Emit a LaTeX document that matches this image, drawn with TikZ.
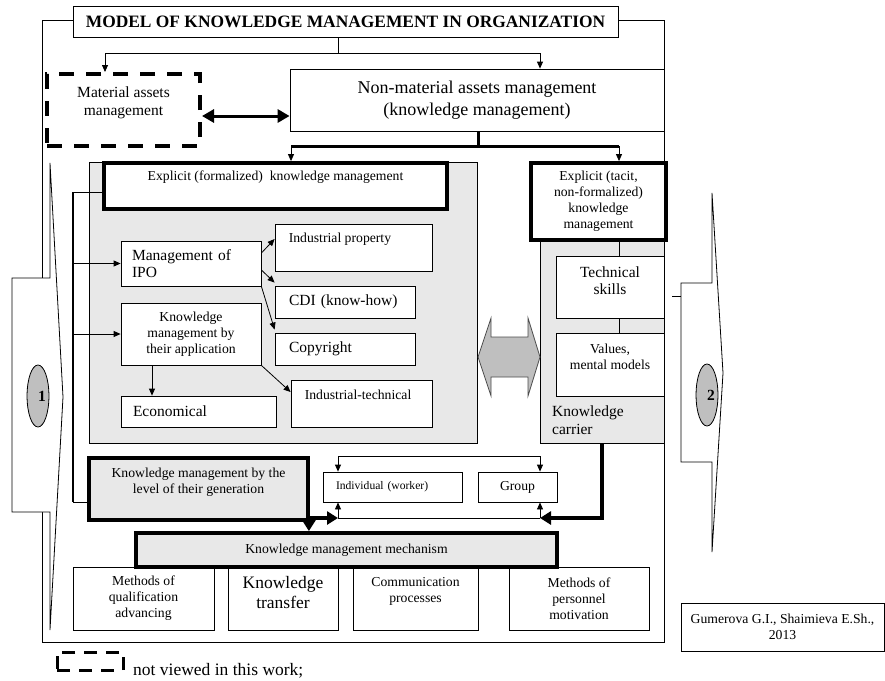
\documentclass[tikz,border=0pt]{standalone}
\usepackage{fontspec}
\setmainfont{Liberation Serif}
\usetikzlibrary{arrows.meta,shapes.geometric}

\newcommand{\txtS}{\fontsize{13.7}{16}\selectfont}
\newcommand{\txtM}{\fontsize{15.5}{17.5}\selectfont}
\newcommand{\txtL}{\fontsize{17.5}{20}\selectfont}

\tikzset{
  box/.style={draw, line width=0.8pt, fill=white, inner sep=0pt, align=center, font=\txtS},
  thickbox/.style={box, line width=3.8pt},
  panel/.style={draw, line width=0.8pt, fill=black!9, inner sep=0pt},
  lbl/.style={font=\txtS, align=center, inner sep=0pt},
  arr/.style={line width=0.8pt, -{Triangle[length=7pt,width=6pt]}},
  bigarr/.style={line width=3.5pt, -{Triangle[length=11pt,width=13pt]}},
  callout/.style={draw, line width=0.8pt, fill=white},
  badge/.style={ellipse, draw, line width=0.8pt, fill=black!25, minimum width=20, minimum height=62, inner sep=0pt, font=\bfseries\txtM}
}

\begin{document}
\begin{tikzpicture}[x=1pt,y=-1pt]
\useasboundingbox (0,0) rectangle (885,680);

% frame
\draw[line width=0.8pt] (42,20) rectangle (664,642);

% side callouts
\draw[callout] (50,163) -- (50,278) -- (12,278) -- (12,512) -- (50,512) -- (50,630) -- (63,397) -- cycle;
\node[badge] (one) at (38,396) {\hphantom{1}1};
\draw[callout] (712,193) -- (712,283) -- (681,283) -- (681,462) -- (712,462) -- (712,552) -- (723,373) -- cycle;
\draw[line width=0.8pt] (672,296) -- (681,296);
\node[badge] (two) at (707,395) {\hphantom{2}2};

% top level
\node[box, minimum width=545, minimum height=31, font={\fontsize{17.4}{20}\selectfont\bfseries}] (title) at (345.5,21.5) {MODEL OF KNOWLEDGE MANAGEMENT IN ORGANIZATION};
\node[box, line width=4pt, dash pattern=on 15pt off 12pt, minimum width=153, minimum height=72,
  label={[lbl, font=\txtM, yshift=7]center:{Material assets\\management}}] (material) at (123.5,110) {};
\node[box, minimum width=374, minimum height=62, font={\fontsize{18}{22}\selectfont}] (nonmat) at (477,100) {Non-material assets management\\(knowledge management)};

\coordinate (split) at (338,53);
\draw[line width=0.8pt] (split |- title.south) -- (split);
\draw[arr] (split) -| ([xshift=-18.5]material.north);
\draw[arr] (split) -| ([xshift=63]nonmat.north);
\draw[line width=3pt, {Triangle[length=12pt,width=13pt]}-{Triangle[length=12pt,width=13pt]}] ([yshift=-6]material.east) -- ([yshift=-16]nonmat.west);

% panels
\node[panel, minimum width=388, minimum height=281] (panelL) at (283,302.5) {};
\node[panel, minimum width=124, minimum height=203] (panelR) at (602,341.5) {};

% explicit knowledge
\node[thickbox, minimum width=343, minimum height=46,
  label={[lbl, yshift=9]center:{Explicit (formalized) \ knowledge management}}] (explicit) at (275.5,186) {};
\node[box, minimum width=140, minimum height=45, font=\txtM, text width=118, align=left] (ipo) at (191,263.5) {Management of\\IPO};
\node[box, minimum width=140, minimum height=62] (app) at (191,334) {Knowledge\\management by\\their application};
\node[box, minimum width=157, minimum height=47,
  label={[lbl, anchor=west, xshift=14, yshift=8.5]west:{Industrial property}}] (indprop) at (353.5,247.5) {};
\node[box, minimum width=140, minimum height=32, font=\txtM, text width=112, align=left] (cdi) at (345,302) {CDI (know-how)};
\node[box, minimum width=140, minimum height=32, font=\txtM, text width=112, align=left] (copyright) at (345,349) {Copyright};
\node[box, minimum width=141, minimum height=47,
  label={[lbl, anchor=west, xshift=14, yshift=8.5]west:{Industrial-technical}}] (indtech) at (361.5,403.5) {};
\node[box, minimum width=155, minimum height=31, font=\txtM, text width=131, align=left] (econ) at (198.5,411.5) {Economical};

\draw[arr] ([yshift=10.5]ipo.east) -- ([yshift=8.5]indprop.west);
\draw[arr] ([yshift=-6.5]ipo.east) -- ([yshift=3]cdi.north west);
\draw[arr] (ipo.south east) -- ([yshift=3]copyright.north west);
\draw[arr] (app.south east) -- ([yshift=11.5]indtech.west);
\coordinate (appdown) at ([xshift=-39]app.south);
\draw[arr] (appdown) -- (appdown |- econ.north);

% tacit knowledge
\node[thickbox, minimum width=135, minimum height=77] (tacit) at (598.5,201.5) {Explicit (tacit,\\non-formalized)\\knowledge\\management};
\node[box, minimum width=108, minimum height=62,
  label={[lbl, font=\txtM, yshift=6.5]center:{Technical\\skills}}] (tech) at (610,287) {};
\node[box, minimum width=108, minimum height=63,
  label={[lbl, yshift=7.5]center:{Values,\\mental models}}] (values) at (610,364.5) {};
\node[lbl, font=\txtM, anchor=west, align=left] (carrier) at (552,420) {Knowledge\\carrier};
\draw[line width=0.8pt] ([xshift=20.5]tacit.south) -- ([xshift=9]tech.north);
\draw[line width=0.8pt] ([xshift=9]tech.south) -- ([xshift=9]values.north);

% exchange arrow
\draw[line width=0.8pt, draw=black!70, fill=black!25] (478,357) -- (491,318) -- (491,337) -- (528,337) -- (528,318)
  -- (540,357) -- (528,396) -- (528,377) -- (491,377) -- (491,396) -- cycle;

% split from non-material
\coordinate (split2) at (478,146);
\coordinate (eTop) at ([xshift=15.5]explicit.north);
\coordinate (tTop) at ([xshift=20.5]tacit.north);
\draw[line width=3pt] (nonmat.south -| split2) -- (split2);
\draw[line width=3pt] (eTop |- split2) -- (tTop |- split2);
\draw[arr] (eTop |- split2) -- (eTop);
\draw[arr] (tTop |- split2) -- (tTop);

% generation level
\node[thickbox, fill=black!9, minimum width=219, minimum height=62,
  label={[lbl, yshift=7]center:{Knowledge management by the\\level of their generation}}] (level) at (198.5,489) {};
\node[box, minimum width=139, minimum height=30, font={\fontsize{11.6}{14}\selectfont}, text width=113, align=left] (individual) at (392.5,487) {Individual (worker)};
\node[box, minimum width=79, minimum height=30] (group) at (517.5,487) {Group};

% left bus
\coordinate (busTop) at (73,192);
\coordinate (busBot) at (73,502);
\draw[line width=2.5pt] (busTop) -- (busBot);
\draw[line width=0.8pt] (busTop) -- (busTop -| explicit.west);
\draw[arr] (busTop |- ipo.west) -- (ipo.west);
\draw[arr] (busTop |- app.west) -- (app.west);
\draw[line width=0.8pt] (busBot) -- (busBot -| level.west);

% brackets round individual and group
\coordinate (indtop) at (338,456);
\coordinate (grptop) at (540,456);
\coordinate (indbot) at (338,518);
\coordinate (grpbot) at (540,518);
\draw[line width=0.8pt] (indtop) -- (grptop);
\draw[arr] (indtop) -- (indtop |- individual.north);
\draw[arr] (grptop) -- (grptop |- group.north);
\draw[line width=0.8pt] (indbot) -- (grpbot);
\draw[arr] (indbot) -- (indbot |- individual.south);
\draw[arr] (grpbot) -- (grpbot |- group.south);

% mechanism
\node[box, minimum width=141, minimum height=63] (quali) at (143.5,598.5) {Methods of\\qualification\\advancing};
\node[box, minimum width=110, minimum height=63,
  label={[lbl, font=\txtL, yshift=5.5]center:{Knowledge\\transfer}}] (transfer) at (283,598.5) {};
\node[box, minimum width=125, minimum height=63,
  label={[lbl, yshift=7.5]center:{Communication\\processes}}] (comm) at (415.5,598.5) {};
\node[box, minimum width=140, minimum height=63] (motiv) at (579,598.5) {Methods of\\personnel\\motivation};
\node[thickbox, fill=black!9, minimum width=421, minimum height=34] (mech) at (346.5,550) {Knowledge management mechanism};

\draw[bigarr] ([yshift=-29]level.east) -- (indbot);
\coordinate (lvlCorner) at ([xshift=-1]level.south east);
\draw[bigarr] (lvlCorner) -- (lvlCorner |- mech.north);
\draw[bigarr] (panelR.south) |- (grpbot);

% source and legend
\node[box, minimum width=203, minimum height=48] (author) at (782.5,627) {Gumerova G.I., Shaimieva E.Sh.,\\2013};
\node[box, line width=3pt, dash pattern=on 13pt off 9pt, minimum width=66, minimum height=18] (legend) at (90,661) {};
\node[lbl, font=\txtL, anchor=base west] (legendtxt) at (133,675) {not viewed in this work;};

\end{tikzpicture}
\end{document}
